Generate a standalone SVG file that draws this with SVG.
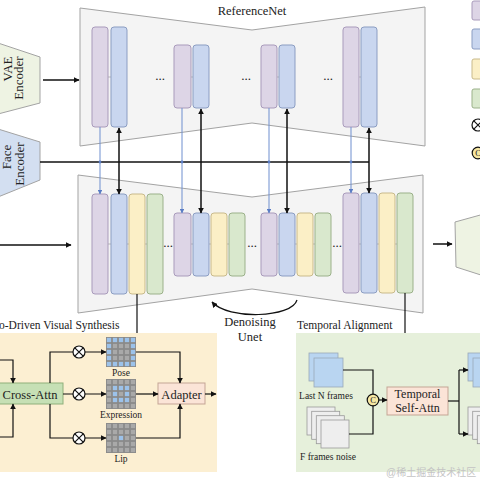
<svg xmlns="http://www.w3.org/2000/svg" xmlns:xlink="http://www.w3.org/1999/xlink" width="480" height="480" viewBox="0 0 480 480">
<defs>
<style>
text{font-family:"Liberation Serif","Times New Roman",serif;fill:#222}
.trap{fill:#f4f4f4;stroke:#a3a3a3;stroke-width:1}
.pu{fill:#ddd5e6;stroke:#a99bbb;stroke-width:1}
.bl{fill:#c9d6ef;stroke:#8b9dc2;stroke-width:1}
.ye{fill:#fbefc6;stroke:#c9ba8b;stroke-width:1}
.gr{fill:#d9e8cd;stroke:#9bb18a;stroke-width:1}
.tick{stroke:#aaaaaa;stroke-width:0.8;fill:none}
.bk{stroke:#111;stroke-width:1.5;fill:none}
.bk1{stroke:#111;stroke-width:1.2;fill:none}
.bu{stroke:#6f8fcf;stroke-width:1;fill:none}
.cell{fill:#a9a9a9}
.cb{fill:#9cc2ea}
.dots{font-size:13px}
</style>
<marker id="ah" viewBox="0 0 10 10" refX="9" refY="5" markerWidth="6" markerHeight="6" markerUnits="userSpaceOnUse" orient="auto-start-reverse"><path d="M0,0 L10,5 L0,10 z" fill="#111"/></marker>
<marker id="ahb" viewBox="0 0 10 10" refX="9" refY="5" markerWidth="4.5" markerHeight="4.5" markerUnits="userSpaceOnUse" orient="auto"><path d="M0,0 L10,5 L0,10 z" fill="#5a7cc4"/></marker>
<g id="gridbase">
<rect x="0" y="0" width="30" height="30" fill="#8b8b8b"/>
<g class="cell">
<rect x="0.9" y="0.9" width="4.2" height="4.2"/><rect x="6.9" y="0.9" width="4.2" height="4.2"/><rect x="12.9" y="0.9" width="4.2" height="4.2"/><rect x="18.9" y="0.9" width="4.2" height="4.2"/><rect x="24.9" y="0.9" width="4.2" height="4.2"/>
<rect x="0.9" y="6.9" width="4.2" height="4.2"/><rect x="6.9" y="6.9" width="4.2" height="4.2"/><rect x="12.9" y="6.9" width="4.2" height="4.2"/><rect x="18.9" y="6.9" width="4.2" height="4.2"/><rect x="24.9" y="6.9" width="4.2" height="4.2"/>
<rect x="0.9" y="12.9" width="4.2" height="4.2"/><rect x="6.9" y="12.9" width="4.2" height="4.2"/><rect x="12.9" y="12.9" width="4.2" height="4.2"/><rect x="18.9" y="12.9" width="4.2" height="4.2"/><rect x="24.9" y="12.9" width="4.2" height="4.2"/>
<rect x="0.9" y="18.9" width="4.2" height="4.2"/><rect x="6.9" y="18.9" width="4.2" height="4.2"/><rect x="12.9" y="18.9" width="4.2" height="4.2"/><rect x="18.9" y="18.9" width="4.2" height="4.2"/><rect x="24.9" y="18.9" width="4.2" height="4.2"/>
<rect x="0.9" y="24.9" width="4.2" height="4.2"/><rect x="6.9" y="24.9" width="4.2" height="4.2"/><rect x="12.9" y="24.9" width="4.2" height="4.2"/><rect x="18.9" y="24.9" width="4.2" height="4.2"/><rect x="24.9" y="24.9" width="4.2" height="4.2"/>
</g>
</g>
<g id="otimes"><circle cx="0" cy="0" r="6" fill="#fff" stroke="#111" stroke-width="1.2"/><path d="M-4.2,-4.2 L4.2,4.2 M-4.2,4.2 L4.2,-4.2" stroke="#111" stroke-width="1.2"/></g>
<g id="concat"><circle cx="0" cy="0" r="5.8" fill="#f6e7a2" stroke="#111" stroke-width="1.2"/><text x="0" y="3.2" text-anchor="middle" style="font-size:8.5px">C</text></g>
</defs>
<rect width="480" height="480" fill="#ffffff"/>

<!-- Encoders -->
<g id="vae-encoder">
<polygon points="-2,43 40,57 40,103 -2,114" fill="#eef3e3" stroke="#a3a3a3" stroke-width="1"/>
<text transform="translate(12,69) rotate(-90)" text-anchor="middle" style="font-size:13px">VAE</text>
<text transform="translate(23,78) rotate(-90)" text-anchor="middle" style="font-size:13px">Encoder</text>
</g>
<g id="face-encoder">
<polygon points="-2,129 40,142 40,180 -2,197" fill="#d3dff1" stroke="#a3a3a3" stroke-width="1"/>
<text transform="translate(10.5,157) rotate(-90)" text-anchor="middle" style="font-size:13px">Face</text>
<text transform="translate(24,164) rotate(-90)" text-anchor="middle" style="font-size:13px">Encoder</text>
</g>

<!-- ReferenceNet -->
<g id="referencenet">
<polygon class="trap" points="80,8 252,30 425,7 425,146 252,123 80,146"/>
<text x="252" y="15" text-anchor="middle" style="font-size:12.5px">ReferenceNet</text>
<line class="tick" x1="92" y1="77" x2="127" y2="77"/>
<line class="tick" x1="174" y1="77" x2="209" y2="77"/>
<line class="tick" x1="261" y1="77" x2="295" y2="77"/>
<line class="tick" x1="343" y1="77" x2="377" y2="77"/>
<rect class="pu" x="92" y="27" width="16" height="100" rx="3"/>
<rect class="bl" x="111" y="27" width="16" height="100" rx="3"/>
<rect class="pu" x="174" y="45" width="17" height="63" rx="3"/>
<rect class="bl" x="193" y="45" width="16" height="63" rx="3"/>
<rect class="pu" x="261" y="45" width="16" height="63" rx="3"/>
<rect class="bl" x="279" y="45" width="16" height="63" rx="3"/>
<rect class="pu" x="343" y="27" width="16" height="100" rx="3"/>
<rect class="bl" x="361" y="27" width="16" height="100" rx="3"/>
<text class="dots" x="160" y="80" text-anchor="middle">...</text>
<text class="dots" x="246" y="80" text-anchor="middle">...</text>
<text class="dots" x="328" y="80" text-anchor="middle">...</text>
</g>

<!-- Denoising UNet -->
<g id="denoising-unet">
<polygon class="trap" points="78,175 252,197 423,175 423,313 252,289 78,313"/>
<line class="tick" x1="92" y1="244" x2="162" y2="244"/>
<line class="tick" x1="174" y1="244" x2="245" y2="244"/>
<line class="tick" x1="261" y1="244" x2="331" y2="244"/>
<line class="tick" x1="343" y1="244" x2="413" y2="244"/>
<rect class="pu" x="92" y="194" width="16" height="100" rx="3"/>
<rect class="bl" x="111" y="194" width="16" height="100" rx="3"/>
<rect class="ye" x="129" y="194" width="16" height="100" rx="3"/>
<rect class="gr" x="147" y="194" width="16" height="100" rx="3"/>
<rect class="pu" x="174" y="213" width="17" height="63" rx="3"/>
<rect class="bl" x="193" y="213" width="16" height="63" rx="3"/>
<rect class="ye" x="211" y="213" width="16" height="63" rx="3"/>
<rect class="gr" x="229" y="213" width="16" height="63" rx="3"/>
<rect class="pu" x="261" y="213" width="16" height="63" rx="3"/>
<rect class="bl" x="279" y="213" width="16" height="63" rx="3"/>
<rect class="ye" x="297" y="213" width="16" height="63" rx="3"/>
<rect class="gr" x="315" y="213" width="16" height="63" rx="3"/>
<rect class="pu" x="343" y="193" width="16" height="100" rx="3"/>
<rect class="bl" x="361" y="193" width="16" height="100" rx="3"/>
<rect class="ye" x="379" y="193" width="16" height="100" rx="3"/>
<rect class="gr" x="397" y="193" width="16" height="100" rx="3"/>
<text class="dots" x="168" y="247" text-anchor="middle">...</text>
<text class="dots" x="252" y="247" text-anchor="middle">...</text>
<text class="dots" x="337" y="247" text-anchor="middle">...</text>
<text x="250" y="326" text-anchor="middle" style="font-size:12.5px">Denoising</text>
<text x="250" y="341" text-anchor="middle" style="font-size:12.5px">Unet</text>
</g>

<!-- VAE decoder (partial) -->
<g id="vae-decoder">
<polygon points="455,222 484,214 484,276 456,267" fill="#eef3e3" stroke="#a3a3a3" stroke-width="1"/>
</g>

<!-- Legend (partial) -->
<g id="legend">
<rect class="pu" x="472" y="1" width="14" height="19" rx="2"/>
<rect class="bl" x="472" y="29" width="14" height="20" rx="2"/>
<rect class="ye" x="472" y="59" width="14" height="20" rx="2"/>
<rect class="gr" x="472" y="89" width="14" height="19" rx="2"/>
<use xlink:href="#otimes" href="#otimes" x="478" y="125"/>
<use xlink:href="#concat" href="#concat" x="478" y="153"/>
</g>

<!-- Audio-driven visual synthesis panel -->
<g id="audio-visual-synthesis">
<rect x="-2" y="333" width="219" height="139" fill="#fcefd2"/>
<text x="-1" y="329" style="font-size:11.5px">o-Driven Visual Synthesis</text>
<g id="cross-attn">
<rect x="-3" y="383" width="66" height="21" fill="#c6e0b5" stroke="#8fb07b" stroke-width="1"/>
<text x="30" y="398.5" text-anchor="middle" style="font-size:12.5px">Cross-Attn</text>
</g>
<g id="pose">
<use xlink:href="#gridbase" href="#gridbase" x="106" y="337"/>
<g class="cb" transform="translate(106,337)">
<rect x="0.9" y="0.9" width="4.2" height="4.2"/><rect x="6.9" y="0.9" width="4.2" height="4.2"/><rect x="12.9" y="0.9" width="4.2" height="4.2"/><rect x="18.9" y="0.9" width="4.2" height="4.2"/><rect x="24.9" y="0.9" width="4.2" height="4.2"/>
<rect x="0.9" y="6.9" width="4.2" height="4.2"/><rect x="24.9" y="6.9" width="4.2" height="4.2"/>
<rect x="0.9" y="12.9" width="4.2" height="4.2"/><rect x="24.9" y="12.9" width="4.2" height="4.2"/>
<rect x="0.9" y="18.9" width="4.2" height="4.2"/><rect x="24.9" y="18.9" width="4.2" height="4.2"/>
<rect x="0.9" y="24.9" width="4.2" height="4.2"/><rect x="6.9" y="24.9" width="4.2" height="4.2"/><rect x="12.9" y="24.9" width="4.2" height="4.2"/><rect x="18.9" y="24.9" width="4.2" height="4.2"/><rect x="24.9" y="24.9" width="4.2" height="4.2"/>
</g>
<text x="121" y="376" text-anchor="middle" style="font-size:9.5px">Pose</text>
</g>
<g id="expression">
<use xlink:href="#gridbase" href="#gridbase" x="106" y="379"/>
<g class="cb" transform="translate(106,379)">
<rect x="6.9" y="6.9" width="4.2" height="4.2"/><rect x="12.9" y="6.9" width="4.2" height="4.2"/><rect x="18.9" y="6.9" width="4.2" height="4.2"/>
<rect x="6.9" y="12.9" width="4.2" height="4.2"/><rect x="18.9" y="12.9" width="4.2" height="4.2"/>
<rect x="6.9" y="18.9" width="4.2" height="4.2"/><rect x="12.9" y="18.9" width="4.2" height="4.2"/><rect x="18.9" y="18.9" width="4.2" height="4.2"/>
</g>
<text x="121" y="418" text-anchor="middle" style="font-size:9.5px">Expression</text>
</g>
<g id="lip">
<use xlink:href="#gridbase" href="#gridbase" x="106" y="423"/>
<rect class="cb" x="118.9" y="435.9" width="4.2" height="4.2"/>
<text x="121" y="462" text-anchor="middle" style="font-size:9.5px">Lip</text>
</g>
<g id="adapter">
<rect x="158" y="383" width="47" height="21" fill="#fbe4d7" stroke="#c4a595" stroke-width="1"/>
<text x="181.5" y="398.5" text-anchor="middle" style="font-size:12.5px">Adapter</text>
</g>
</g>

<!-- Temporal alignment panel -->
<g id="temporal-alignment">
<rect x="296" y="333" width="188" height="139" fill="#e6f0db"/>
<text x="297" y="329" style="font-size:11.5px">Temporal Alignment</text>
<g id="last-n-frames">
<rect x="309" y="353" width="29" height="28" fill="#b9d5f1" stroke="#9aa8b8" stroke-width="0.8"/>
<rect x="314" y="358" width="29" height="29" fill="#b9d5f1" stroke="#9aa8b8" stroke-width="0.8"/>
<text x="326" y="399" text-anchor="middle" style="font-size:9.5px">Last N frames</text>
</g>
<g id="f-frames-noise">
<rect x="307" y="407" width="28" height="28" fill="#eeeeee" stroke="#999" stroke-width="0.8"/>
<rect x="311.7" y="411.3" width="28" height="28" fill="#eeeeee" stroke="#999" stroke-width="0.8"/>
<rect x="316.3" y="415.7" width="28" height="28" fill="#eeeeee" stroke="#999" stroke-width="0.8"/>
<rect x="321" y="420" width="28" height="28" fill="#eeeeee" stroke="#999" stroke-width="0.8"/>
<text x="328" y="460" text-anchor="middle" style="font-size:9.5px">F frames noise</text>
</g>
<g id="temporal-self-attn">
<rect x="387" y="387" width="61" height="28" fill="#fbe4d7" stroke="#c4a595" stroke-width="1"/>
<text x="417.5" y="398" text-anchor="middle" style="font-size:12px">Temporal</text>
<text x="417.5" y="412" text-anchor="middle" style="font-size:12px">Self-Attn</text>
</g>
<g id="output-frames">
<rect x="468" y="353" width="29" height="28" fill="#b9d5f1" stroke="#9aa8b8" stroke-width="0.8"/>
<rect x="473" y="358" width="29" height="29" fill="#b9d5f1" stroke="#9aa8b8" stroke-width="0.8"/>
<rect x="468" y="407" width="28" height="28" fill="#eeeeee" stroke="#999" stroke-width="0.8"/>
<rect x="472.7" y="411.3" width="28" height="28" fill="#eeeeee" stroke="#999" stroke-width="0.8"/>
<rect x="477.3" y="415.7" width="28" height="28" fill="#eeeeee" stroke="#999" stroke-width="0.8"/>
</g>
</g>

<!-- Connectors -->
<g id="connectors">
<line class="bk" x1="43" y1="80" x2="79" y2="80" marker-end="url(#ah)"/>
<line class="bk" x1="-2" y1="245" x2="71" y2="245" marker-end="url(#ah)"/>
<line class="bk" x1="433" y1="244" x2="452" y2="244" marker-end="url(#ah)"/>
<line class="bk" x1="40" y1="162" x2="369" y2="162"/>
<line class="bu" x1="100" y1="127" x2="100" y2="194" marker-end="url(#ahb)"/>
<line class="bu" x1="182" y1="108" x2="182" y2="213" marker-end="url(#ahb)"/>
<line class="bu" x1="269" y1="108" x2="269" y2="213" marker-end="url(#ahb)"/>
<line class="bu" x1="351" y1="127" x2="351" y2="193" marker-end="url(#ahb)"/>
<circle cx="100" cy="162" r="1.4" fill="#5a7cc4"/>
<circle cx="182" cy="162" r="1.4" fill="#5a7cc4"/>
<circle cx="269" cy="162" r="1.4" fill="#5a7cc4"/>
<circle cx="351" cy="162" r="1.4" fill="#5a7cc4"/>
<line class="bk" x1="119" y1="128" x2="119" y2="194" marker-start="url(#ah)" marker-end="url(#ah)"/>
<line class="bk" x1="201" y1="109" x2="201" y2="213" marker-start="url(#ah)" marker-end="url(#ah)"/>
<line class="bk" x1="287" y1="109" x2="287" y2="213" marker-start="url(#ah)" marker-end="url(#ah)"/>
<line class="bk" x1="369" y1="128" x2="369" y2="193" marker-start="url(#ah)" marker-end="url(#ah)"/>
<path class="bk1" d="M297,300 C292,318 228,320 212,302" marker-end="url(#ah)"/>
<line class="bk1" x1="137" y1="294" x2="137" y2="333" stroke="#555"/>
<line class="bk1" x1="405" y1="293" x2="405" y2="333" stroke="#555"/>
<path class="bk1" d="M-2,360 H13 V383" marker-end="url(#ah)"/>
<path class="bk1" d="M-2,437 H13 V404" marker-end="url(#ah)"/>
<path class="bk1" d="M50,383 V352 H106" marker-end="url(#ah)"/>
<path class="bk1" d="M50,404 V438 H106" marker-end="url(#ah)"/>
<path class="bk1" d="M63,394 H106" marker-end="url(#ah)"/>
<use xlink:href="#otimes" href="#otimes" x="79" y="352"/>
<use xlink:href="#otimes" href="#otimes" x="79" y="394"/>
<use xlink:href="#otimes" href="#otimes" x="79" y="438"/>
<path class="bk1" d="M136,352 H180 V383" marker-end="url(#ah)"/>
<path class="bk1" d="M136,394 H158" marker-end="url(#ah)"/>
<path class="bk1" d="M136,438 H180 V404" marker-end="url(#ah)"/>
<path class="bk1" d="M205,394 H216" marker-end="url(#ah)"/>
<path class="bk1" d="M343,370 H373 V394.5"/>
<path class="bk1" d="M349,434 H373 V405.5"/>
<use xlink:href="#concat" href="#concat" x="373" y="400"/>
<path class="bk1" d="M378.8,400 H387" marker-end="url(#ah)"/>
<path class="bk1" d="M448,401 H459"/>
<path class="bk1" d="M459,370 V434"/>
<path class="bk1" d="M459,370 H468" marker-end="url(#ah)"/>
<path class="bk1" d="M459,434 H468" marker-end="url(#ah)"/>
</g>
<text x="386" y="476" style="font-family:'Liberation Sans','Noto Sans CJK SC',sans-serif;font-size:10px;fill:#c4c4c4">@稀土掘金技术社区</text>
</svg>
